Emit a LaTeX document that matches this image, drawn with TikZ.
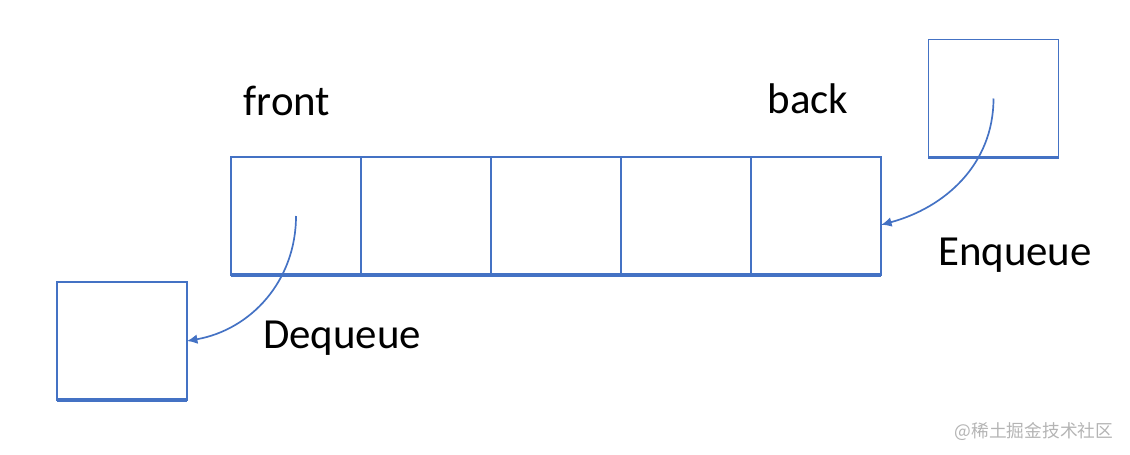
\documentclass[tikz,border=0pt]{standalone}
\usepackage{fontspec}
\setmainfont{Carlito}
\newfontfamily\cjk{Noto Sans CJK SC}
\usepackage{xcolor}
\definecolor{qblue}{HTML}{4472C4}
\definecolor{markgray}{HTML}{B4B4B4}
\usetikzlibrary{arrows.meta, positioning}

\begin{document}
\begin{tikzpicture}[
    x=0.025cm, y=-0.025cm,
    cell/.style={rectangle, draw=qblue, line width=1.3pt, minimum width=3.25cm, minimum height=2.95cm, outer sep=0pt, inner sep=0pt},
    base/.style={draw=qblue, line width=2.6pt},
    label/.style={anchor=base, font=\fontsize{30.5}{36}\selectfont},
    arrow/.style={-{Latex[length=2.6mm, width=2.4mm]}, draw=qblue, line width=1.2pt}
]
\useasboundingbox (0,0) rectangle (1130,454);
% Queue cells
\node[cell] (c1) at (296,216) {};
\node[cell, right=0pt of c1] (c2) {};
\node[cell, right=0pt of c2] (c3) {};
\node[cell, right=0pt of c3] (c4) {};
\node[cell, right=0pt of c4] (c5) {};
\draw[base] (c1.south west) -- (c5.south east);

% Incoming and outgoing elements
\node[cell] (inbox) at (993.5,98.5) {};
\draw[base] (inbox.south west) -- (inbox.south east);
\node[cell] (outbox) at (122,341) {};
\draw[base] (outbox.south west) -- (outbox.south east);

% Labels
\node[label] (front) at (287,115) {front};
\node[label] (back) at (808,113) {back};
\node[label] (enq) at (1015,265) {Enqueue};
\node[label] (deq) at (342,348) {Dequeue};

\draw[arrow] (inbox.center) to[out=-90, in=15] ([yshift=-0.22cm]c5.east);
\draw[arrow] (c1.center) to[out=-90, in=10] (outbox.east);

\node[anchor=base, text=markgray, font=\cjk\fontsize{12.6}{15}\selectfont] (mark) at (1034,437) {@稀土掘金技术社区};
\end{tikzpicture}
\end{document}
